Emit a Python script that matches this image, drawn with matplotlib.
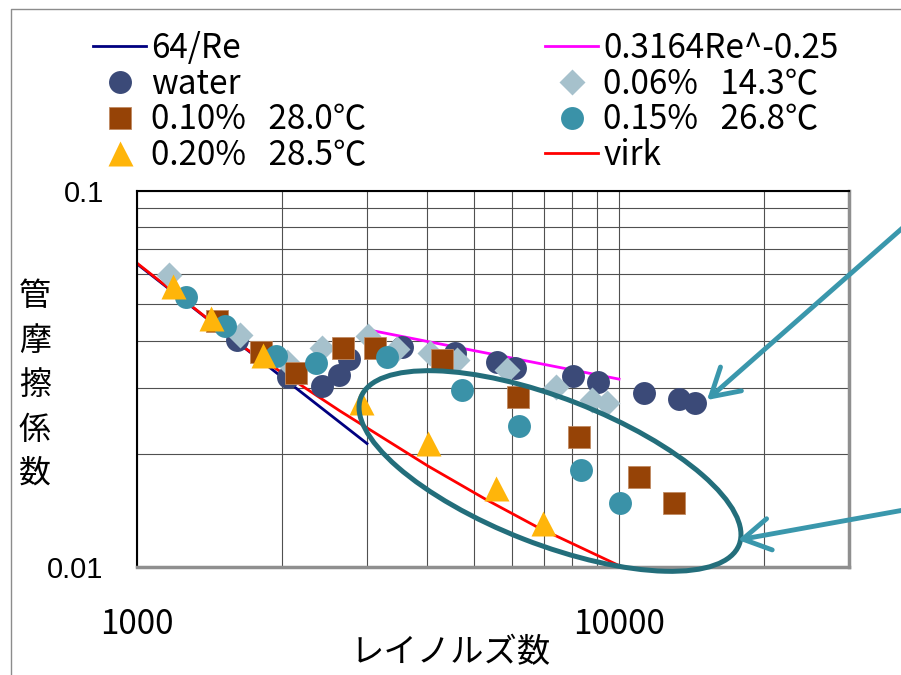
import matplotlib.pyplot as plt
import matplotlib.patches as mpatches

plt.rcParams['font.family'] = ['Noto Sans CJK JP', 'DejaVu Sans']

# reference lines
re_lam = [1000, 3000]
f_lam = [0.064, 0.0213]
re_blasius = [3000, 10000]
f_blasius = [0.0428, 0.0316]
re_virk = [1000, 1675, 2637, 4015, 5322, 6760, 10145]
f_virk = [0.0643, 0.0382, 0.0260, 0.01856, 0.01507, 0.01278, 0.0100]

# measured points
re_water = [1612, 2058, 2420, 2625, 2754, 3546, 4568, 5582, 6084, 8028, 9047, 11270, 13320, 14380]
f_water = [0.0402, 0.0320, 0.0303, 0.0324, 0.0357, 0.0385, 0.0371, 0.0351, 0.0338, 0.0322, 0.0310, 0.0290, 0.0280, 0.0273]

re_006 = [1165, 1636, 2047, 2420, 3015, 3462, 4054, 4613, 5855, 7401, 8790, 9443]
f_006 = [0.0598, 0.0414, 0.0351, 0.0382, 0.0412, 0.0380, 0.0371, 0.0355, 0.0334, 0.0301, 0.0278, 0.0273]

re_010 = [1466, 1808, 2138, 2675, 3117, 4294, 6172, 8260, 11004, 13006]
f_010 = [0.0451, 0.0373, 0.0328, 0.0382, 0.0382, 0.0355, 0.0283, 0.0222, 0.01735, 0.0148]

re_015 = [1264, 1522, 1943, 2351, 3301, 4724, 6201, 8340, 10050]
f_015 = [0.0523, 0.0437, 0.0364, 0.0349, 0.0362, 0.0296, 0.0237, 0.01811, 0.0148]

re_020 = [1188, 1424, 1826, 2915, 4015, 5556, 6956]
f_020 = [0.0559, 0.0460, 0.0366, 0.0275, 0.0214, 0.01623, 0.01309]

x_major = [1000, 10000]
x_minor = [2000, 3000, 4000, 5000, 6000, 7000, 8000, 9000, 20000]
y_major = [0.01, 0.1]
y_minor = [0.02, 0.03, 0.04, 0.05, 0.06, 0.07, 0.08, 0.09]

fig = plt.figure(figsize=(9.01, 6.75), dpi=100)
ax = fig.add_axes([137/901, 1-567/675, 712/901, 376/675])
ax.set_xscale('log')
ax.set_yscale('log')
ax.set_xlim(1000, 30000)
ax.set_ylim(0.01, 0.1)

ax.set_xticks(x_major)
ax.set_xticklabels(['1000', '10000'])
ax.set_xticks(x_minor, minor=True)
ax.set_xticklabels([], minor=True)
ax.set_yticks(y_major)
ax.set_yticklabels(['0.01', '0.1'])
ax.set_yticks(y_minor, minor=True)
ax.set_yticklabels([], minor=True)
ax.tick_params(which='both', length=0)
ax.tick_params(axis='x', pad=29, labelsize=24)
ax.tick_params(axis='y', pad=24, labelsize=21, labelfontfamily='Liberation Sans')
ax.grid(which='both', color='#505050', lw=0.8)
ax.set_axisbelow(True)

for s in ['top', 'left']:
    ax.spines[s].set_color('black')
    ax.spines[s].set_linewidth(1.5)
for s in ['right', 'bottom']:
    ax.spines[s].set_color('#8f8f8f')
    ax.spines[s].set_linewidth(2.5)

l_lam, = ax.plot(re_lam, f_lam, color='#000080', lw=2, zorder=2)
l_bl, = ax.plot(re_blasius, f_blasius, color='#ff00ff', lw=2, zorder=2)
l_virk, = ax.plot(re_virk, f_virk, color='#ff0000', lw=2, zorder=2)

m_w, = ax.plot(re_water, f_water, ls='none', marker='o', ms=16.5, color='#3b4a78', mec='none', zorder=3)
m_006, = ax.plot(re_006, f_006, ls='none', marker='D', ms=13.5, color='#a6c1cc', mec='none', zorder=4)
m_010, = ax.plot(re_010, f_010, ls='none', marker='s', ms=16, color='#964306', mec='#c08a62', mew=0.6, zorder=5)
m_015, = ax.plot(re_015, f_015, ls='none', marker='o', ms=16.5, color='#3a92a8', mec='none', zorder=6)
m_020, = ax.plot(re_020, f_020, ls='none', marker='^', ms=18, color='#ffb50a', mec='none', zorder=7)

leg_kw = dict(loc='upper left', frameon=False, fontsize=24, borderpad=0, borderaxespad=0,
              handlelength=1.6, handletextpad=0.15, labelspacing=0.02)
fig.legend([l_lam, m_w, m_010, m_020],
           ['64/Re', 'water', '0.10%   28.0℃', '0.20%   28.5℃'],
           bbox_to_anchor=(93/901, 1-31/675), **leg_kw)
fig.legend([l_bl, m_006, m_015, l_virk],
           ['0.3164Re^-0.25', '0.06%   14.3℃', '0.15%   26.8℃', 'virk'],
           bbox_to_anchor=(545/901, 1-31/675), **leg_kw)

fig.text(35/901, 1-385/675, '管\n摩\n擦\n係\n数', ha='center', va='center',
         fontsize=23, linespacing=1.5)
fig.text(451/901, 1-653/675, 'レイノルズ数', ha='center', va='center', fontsize=24)

# annotation layer in pixel coordinates
ov = fig.add_axes([0, 0, 1, 1], zorder=5)
ov.set_xlim(0, 901)
ov.set_ylim(675, 0)
ov.axis('off')
ov.plot([11, 11, 901], [675, 9, 9], color='#8c8c8c', lw=1)
ov.add_patch(mpatches.Ellipse((550, 471), 406, 146, angle=21.3, fill=False,
                              ec='#236e7b', lw=3.6))
arrow = dict(arrowstyle='->,head_length=0.65,head_width=0.38', color='#3a97ac',
             lw=3.5, mutation_scale=30, shrinkA=0, shrinkB=0)
ov.annotate('', xy=(707, 400), xytext=(915, 217), arrowprops=arrow, annotation_clip=False)
ov.annotate('', xy=(738, 540), xytext=(915, 508), arrowprops=arrow, annotation_clip=False)

fig.savefig('out.png', dpi=100)
